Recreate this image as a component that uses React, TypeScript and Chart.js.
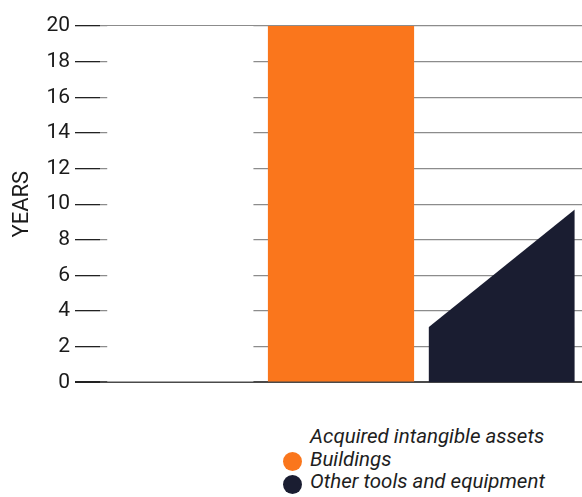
import React, { useEffect, useRef } from "react";
import { Chart, registerables } from "chart.js";

Chart.register(...registerables);

const categories = ["Acquired intangible assets", "Buildings", "Other tools and equipment"];
const intangibleYears = [20, null, null];
const buildingsYears = [null, 20, null];
// Other tools and equipment: useful life range (start, end) in years
const otherToolsRange = [3.1, 9.7];
const yTicks = [0, 2, 4, 6, 8, 10, 12, 14, 16, 18, 20];

const COLORS = {
  intangible: "#ffffff",
  buildings: "#fa761c",
  other: "#1a1d31",
};

const BAR_PCT = 0.91;

export default function App() {
  const canvasRef = useRef<HTMLCanvasElement | null>(null);

  useEffect(() => {
    const canvas = canvasRef.current;
    if (!canvas) return;
    const otherIdx = 2;
    const chart = new Chart(canvas, {
      type: "bar",
      data: {
        labels: categories,
        datasets: [
          {
            label: categories[0],
            data: intangibleYears as any,
            backgroundColor: COLORS.intangible,
            grouped: false,
            barPercentage: BAR_PCT,
            categoryPercentage: 1,
            xAxisID: "x",
          } as any,
          {
            label: categories[1],
            data: buildingsYears as any,
            backgroundColor: COLORS.buildings,
            grouped: false,
            barPercentage: BAR_PCT,
            categoryPercentage: 1,
            xAxisID: "x",
          } as any,
          {
            type: "line",
            label: categories[2],
            data: [
              { x: otherIdx - BAR_PCT / 2, y: otherToolsRange[0] },
              { x: otherIdx + BAR_PCT / 2, y: otherToolsRange[1] },
            ],
            xAxisID: "xl",
            backgroundColor: COLORS.other,
            borderColor: COLORS.other,
            borderWidth: 0,
            pointRadius: 0,
            fill: "origin",
            tension: 0,
          } as any,
        ],
      },
      options: {
        responsive: false,
        animation: false,
        layout: { padding: { top: 26, bottom: 16, left: 0, right: 0 } },
        plugins: {
          legend: { display: false },
          tooltip: { enabled: false },
        },
        scales: {
          x: {
            type: "category",
            display: false,
            offset: true,
          },
          xl: {
            type: "linear",
            display: false,
            offset: false,
            grid: { offset: false },
            bounds: "data",
            min: -0.5,
            max: 2.5,
          },
          y: {
            min: 0,
            max: 20,
            afterFit: (scale: any) => {
              scale.width = 100;
            },
            afterBuildTicks: (scale: any) => {
              scale.ticks = yTicks.map((v) => ({ value: v }));
            },
            border: { display: false },
            grid: {
              color: (ctx: any) => (ctx.tick && ctx.tick.value === 0 ? "#4a4a4a" : "#8c8c8c"),
              lineWidth: (ctx: any) => (ctx.tick && ctx.tick.value === 0 ? 2 : 1.3),
              tickColor: "#222222",
              tickLength: 25,
              tickWidth: (ctx: any) => (ctx.tick && ctx.tick.value === 0 ? 2 : 1.3),
            },
            ticks: {
              padding: 5,
              color: "#1a1a1a",
              font: { family: "Roboto", size: 21 },
            },
            title: {
              display: true,
              text: "YEARS",
              color: "#1a1a1a",
              font: { family: "Roboto", size: 22 },
              padding: { top: 9, bottom: 0 },
            },
          },
        },
      },
    });
    return () => chart.destroy();
  }, []);

  const legendItems = [
    { label: categories[0], color: COLORS.intangible },
    { label: categories[1], color: COLORS.buildings },
    { label: categories[2], color: COLORS.other },
  ];

  return (
    <div
      style={{
        position: "absolute",
        left: 0,
        top: 0,
        width: 582,
        height: 497,
        background: "#ffffff",
        overflow: "hidden",
      }}
    >
      <canvas ref={canvasRef} width={582} height={400} style={{ display: "block", width: 582, height: 400 }} />
      <div
        style={{
          position: "absolute",
          left: 283,
          top: 425,
          fontFamily: "Roboto",
          fontStyle: "italic",
          fontSize: 20.5,
          color: "#1e1e1e",
        }}
      >
        {legendItems.map((it) => (
          <div key={it.label} style={{ display: "flex", alignItems: "center", height: 22.5 }}>
            <span
              style={{
                display: "inline-block",
                width: 19,
                height: 19,
                borderRadius: "50%",
                background: it.color,
                marginRight: 8,
                position: "relative",
                top: 3,
              }}
            />
            <span style={{ whiteSpace: "nowrap" }}>{it.label}</span>
          </div>
        ))}
      </div>
    </div>
  );
}
